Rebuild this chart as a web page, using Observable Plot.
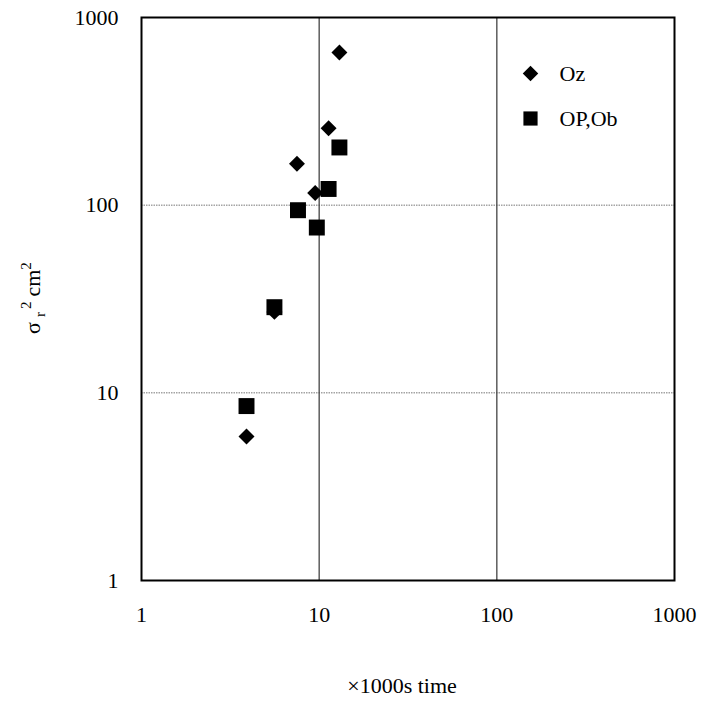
<!DOCTYPE html>
<html>
<head>
<meta charset="utf-8">
<script src="https://cdn.jsdelivr.net/npm/d3@7"></script>
<script src="https://cdn.jsdelivr.net/npm/@observablehq/plot@0.6"></script>
<style>
  html, body { margin: 0; padding: 0; background: #fff; }
</style>
</head>
<body>
<div id="chart"></div>
<script>
// Data
const xTicks = [1, 10, 100, 1000];
const yTicks = [1, 10, 100, 1000];
const gridX = [10, 100];
const gridY = [10, 100];

const ozTime = [13.0, 11.3, 7.5, 9.5, 5.6, 3.9];
const ozSigma = [650, 257, 166, 116, 27, 5.85];

const opTime = [13.0, 11.3, 7.6, 9.7, 5.6, 3.9];
const opSigma = [203, 122, 94, 76, 28.6, 8.5];

const seriesNames = ["Oz", "OP,Ob"];
const xTitle = "×1000s time";

const oz = ozTime.map((t, i) => ({t, s: ozSigma[i]}));
const op = opTime.map((t, i) => ({t, s: opSigma[i]}));

const font = "'Liberation Serif', 'Times New Roman', serif";

const chart = Plot.plot({
  width: 705,
  height: 703,
  marginLeft: 141,
  marginRight: 31,
  marginTop: 17,
  marginBottom: 123,
  style: {fontFamily: font, fontSize: "22px", color: "black", background: "white"},
  x: {type: "log", domain: [1, 1000]},
  y: {type: "log", domain: [1, 1000]},
  marks: [
    Plot.ruleY(gridY, {stroke: "#777", strokeWidth: 1, strokeDasharray: "1.5,1"}),
    Plot.ruleX(gridX, {stroke: "#444", strokeWidth: 1.3}),
    Plot.axisX({ticks: xTicks, tickFormat: d => String(d), tickSize: 0, tickPadding: 26, label: null, fontSize: 22}),
    Plot.axisY({ticks: yTicks, tickFormat: d => String(d), tickSize: 0, tickPadding: 23, label: null, fontSize: 22}),
    Plot.dot(oz, {x: "t", y: "s", symbol: "diamond2", r: 7.2, fill: "black", stroke: "none"}),
    Plot.dot(op, {x: "t", y: "s", symbol: "square", r: 9, fill: "black", stroke: "none"}),
    Plot.frame({stroke: "black", strokeWidth: 2}),
    // legend (inside plot, top-right)
    Plot.dot([seriesNames[0]], {frameAnchor: "top-left", dx: 389, dy: 56, symbol: "diamond2", r: 7, fill: "black", stroke: "none"}),
    Plot.dot([seriesNames[1]], {frameAnchor: "top-left", dx: 389, dy: 101, symbol: "square", r: 8, fill: "black", stroke: "none"}),
    Plot.text([seriesNames[0]], {text: d => d, frameAnchor: "top-left", dx: 418, dy: 56, textAnchor: "start", lineAnchor: "middle", fontSize: 22, fill: "black"}),
    Plot.text([seriesNames[1]], {text: d => d, frameAnchor: "top-left", dx: 418, dy: 101, textAnchor: "start", lineAnchor: "middle", fontSize: 22, fill: "black"}),
    Plot.text([xTitle], {text: d => d, frameAnchor: "bottom", dx: -6, dy: 105, lineAnchor: "middle", fontSize: 22, fill: "black"})
  ]
});

document.getElementById("chart").appendChild(chart);

// Y-axis title with sub/superscripts
const svg = d3.select(chart);
const t = svg.append("text")
  .attr("transform", "translate(40,298) rotate(-90)")
  .attr("text-anchor", "middle")
  .attr("font-family", font)
  .attr("font-size", 22)
  .attr("fill", "black");
t.append("tspan").text("σ");
t.append("tspan").attr("font-size", 15).attr("dx", 5).attr("dy", 5).text("r");
t.append("tspan").attr("font-size", 15).attr("dx", 3).attr("dy", -14).text("2");
t.append("tspan").attr("dx", 5).attr("dy", 9).text("cm");
t.append("tspan").attr("font-size", 15).attr("dy", -9).text("2");
</script>
</body>
</html>
